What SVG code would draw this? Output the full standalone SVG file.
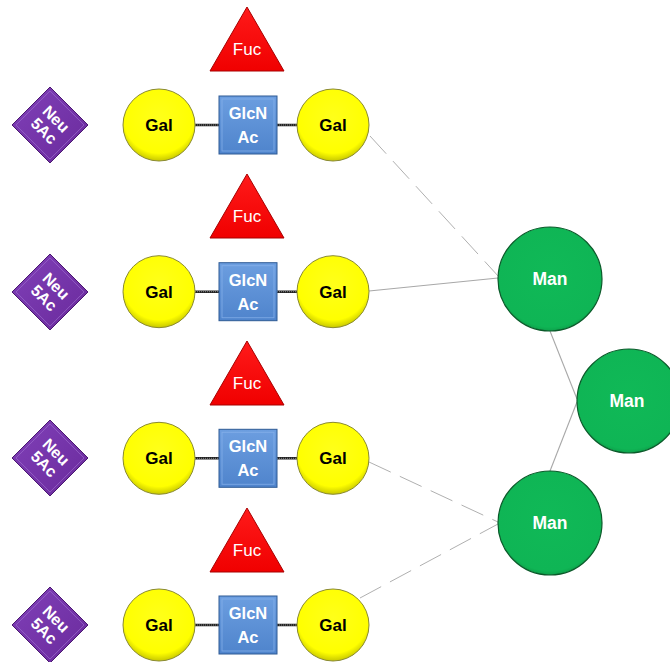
<svg xmlns="http://www.w3.org/2000/svg" width="670" height="662" viewBox="0 0 670 662">
<defs>
<radialGradient id="gGal" cx="0.5" cy="0.4" r="0.6">
<stop offset="0" stop-color="#ffff1a"/><stop offset="0.82" stop-color="#ffff00"/><stop offset="1" stop-color="#c8c800"/>
</radialGradient>
<radialGradient id="gMan" cx="0.5" cy="0.45" r="0.6">
<stop offset="0" stop-color="#10b957"/><stop offset="0.85" stop-color="#0fb555"/><stop offset="1" stop-color="#0a8a3e"/>
</radialGradient>
<linearGradient id="gSq" x1="0" y1="0" x2="0" y2="1">
<stop offset="0" stop-color="#6c9ee0"/><stop offset="1" stop-color="#4f84cc"/>
</linearGradient>
<linearGradient id="gTri" x1="0" y1="0" x2="0" y2="1">
<stop offset="0" stop-color="#ff1a1a"/><stop offset="1" stop-color="#f00000"/>
</linearGradient>
<linearGradient id="gDia" x1="0" y1="0" x2="1" y2="1">
<stop offset="0" stop-color="#8040b8"/><stop offset="1" stop-color="#6a2a9c"/>
</linearGradient>
<style>
.gal{fill:url(#gGal);stroke:#8a8a30;stroke-width:1}
.man{fill:url(#gMan);stroke:#0b5a2a;stroke-width:1.2}
.sq{fill:url(#gSq);stroke:#2e5a94;stroke-width:1}
.sqin{fill:none;stroke:#8ab4ec;stroke-width:1;opacity:0.7}
.tri{fill:url(#gTri);stroke:#a80000;stroke-width:1}
.dia{fill:url(#gDia);stroke:#4a1870;stroke-width:1}
.diain{fill:none;stroke:#a070d0;stroke-width:1;opacity:0.6}
.tb{font-family:"Liberation Sans",Arial,sans-serif;font-weight:bold;text-anchor:middle}
.tr{font-family:"Liberation Sans",Arial,sans-serif;text-anchor:middle}
.link{stroke:#222;stroke-width:2.6}
.linkin{stroke:#888;stroke-width:1;stroke-dasharray:1 1}
.edge{stroke:#a8a8a8;stroke-width:1.1;fill:none}
.dash{stroke:#b0b0b0;stroke-width:1;fill:none;stroke-dasharray:24 10}
</style>
</defs>
<rect width="670" height="662" fill="#ffffff"/>

<g id="connectors">
<path class="dash" d="M370,136 L499,277"/>
<path class="edge" d="M369,291 L498,278"/>
<path class="edge" d="M550,331 L577,399"/>
<path class="edge" d="M577,402 L550,471"/>
<path class="dash" d="M369,462 L498,522"/>
<path class="dash" d="M360,598 L498,524"/>
<g id="row-links">
<path class="link" d="M195,125 H219 M277,125 H297 M195,291.7 H219 M277,291.7 H297 M195,458.3 H219 M277,458.3 H297 M195,625 H219 M277,625 H297"/>
<path class="linkin" d="M195,125 H219 M277,125 H297 M195,291.7 H219 M277,291.7 H297 M195,458.3 H219 M277,458.3 H297 M195,625 H219 M277,625 H297"/>
</g>
</g>

<!-- Row 1 -->
<g id="fuc1"><polygon class="tri" points="247,7 284,71 210,71"/><text class="tr" x="247" y="55" font-size="17" fill="#fff">Fuc</text></g>
<g id="neu1"><polygon class="dia" points="50,87 88,125 50,163 12,125"/><polygon class="diain" points="50,91 84,125 50,159 16,125"/><text class="tb" font-size="16" fill="#fff" transform="translate(50,125) rotate(45)"><tspan x="0" y="-3">Neu</tspan><tspan x="0" y="14">5Ac</tspan></text></g>
<g id="galA1"><circle class="gal" cx="159" cy="125" r="36"/><text class="tb" x="159" y="131" font-size="17" fill="#000">Gal</text></g>
<g id="glc1"><rect class="sq" x="219" y="96" width="58" height="58"/><rect class="sqin" x="222" y="99" width="52" height="52"/><text class="tb" font-size="16.5" fill="#fff"><tspan x="248" y="119">GlcN</tspan><tspan x="248" y="143">Ac</tspan></text></g>
<g id="galB1"><circle class="gal" cx="333" cy="125" r="36"/><text class="tb" x="333" y="131" font-size="17" fill="#000">Gal</text></g>

<!-- Row 2 -->
<g id="fuc2"><polygon class="tri" points="247,174 284,238 210,238"/><text class="tr" x="247" y="222" font-size="17" fill="#fff">Fuc</text></g>
<g id="neu2"><polygon class="dia" points="50,254 88,292 50,330 12,292"/><polygon class="diain" points="50,258 84,292 50,326 16,292"/><text class="tb" font-size="16" fill="#fff" transform="translate(50,292) rotate(45)"><tspan x="0" y="-3">Neu</tspan><tspan x="0" y="14">5Ac</tspan></text></g>
<g id="galA2"><circle class="gal" cx="159" cy="291.7" r="36"/><text class="tb" x="159" y="297.7" font-size="17" fill="#000">Gal</text></g>
<g id="glc2"><rect class="sq" x="219" y="262.7" width="58" height="58"/><rect class="sqin" x="222" y="265.7" width="52" height="52"/><text class="tb" font-size="16.5" fill="#fff"><tspan x="248" y="285.7">GlcN</tspan><tspan x="248" y="309.7">Ac</tspan></text></g>
<g id="galB2"><circle class="gal" cx="333" cy="291.7" r="36"/><text class="tb" x="333" y="297.7" font-size="17" fill="#000">Gal</text></g>

<!-- Row 3 -->
<g id="fuc3"><polygon class="tri" points="247,341 284,405 210,405"/><text class="tr" x="247" y="389" font-size="17" fill="#fff">Fuc</text></g>
<g id="neu3"><polygon class="dia" points="50,420 88,458 50,496 12,458"/><polygon class="diain" points="50,424 84,458 50,492 16,458"/><text class="tb" font-size="16" fill="#fff" transform="translate(50,458) rotate(45)"><tspan x="0" y="-3">Neu</tspan><tspan x="0" y="14">5Ac</tspan></text></g>
<g id="galA3"><circle class="gal" cx="159" cy="458.3" r="36"/><text class="tb" x="159" y="464.3" font-size="17" fill="#000">Gal</text></g>
<g id="glc3"><rect class="sq" x="219" y="429.3" width="58" height="58"/><rect class="sqin" x="222" y="432.3" width="52" height="52"/><text class="tb" font-size="16.5" fill="#fff"><tspan x="248" y="452.3">GlcN</tspan><tspan x="248" y="476.3">Ac</tspan></text></g>
<g id="galB3"><circle class="gal" cx="333" cy="458.3" r="36"/><text class="tb" x="333" y="464.3" font-size="17" fill="#000">Gal</text></g>

<!-- Row 4 -->
<g id="fuc4"><polygon class="tri" points="247,508 284,572 210,572"/><text class="tr" x="247" y="556" font-size="17" fill="#fff">Fuc</text></g>
<g id="neu4"><polygon class="dia" points="50,587 88,625 50,663 12,625"/><polygon class="diain" points="50,591 84,625 50,659 16,625"/><text class="tb" font-size="16" fill="#fff" transform="translate(50,625) rotate(45)"><tspan x="0" y="-3">Neu</tspan><tspan x="0" y="14">5Ac</tspan></text></g>
<g id="galA4"><circle class="gal" cx="159" cy="625" r="36"/><text class="tb" x="159" y="631" font-size="17" fill="#000">Gal</text></g>
<g id="glc4"><rect class="sq" x="219" y="596" width="58" height="58"/><rect class="sqin" x="222" y="599" width="52" height="52"/><text class="tb" font-size="16.5" fill="#fff"><tspan x="248" y="619">GlcN</tspan><tspan x="248" y="643">Ac</tspan></text></g>
<g id="galB4"><circle class="gal" cx="333" cy="625" r="36"/><text class="tb" x="333" y="631" font-size="17" fill="#000">Gal</text></g>

<!-- Mannose -->
<g id="man1"><circle class="man" cx="550" cy="279" r="52"/><text class="tb" x="550" y="285" font-size="17.5" fill="#fff">Man</text></g>
<g id="man2"><circle class="man" cx="629" cy="401" r="52"/><text class="tb" x="627" y="407" font-size="17.5" fill="#fff">Man</text></g>
<g id="man3"><circle class="man" cx="550" cy="523" r="52"/><text class="tb" x="550" y="529" font-size="17.5" fill="#fff">Man</text></g>
</svg>
